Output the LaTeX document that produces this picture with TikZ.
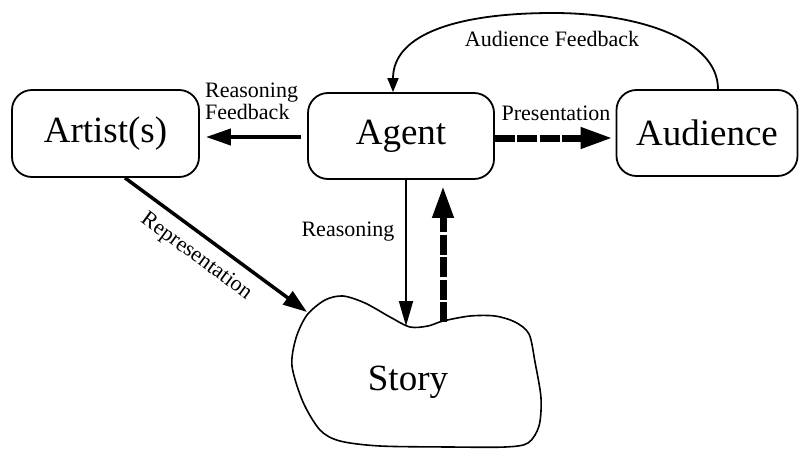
\documentclass[tikz,border=0pt]{standalone}
\usepackage{fontspec}
\setmainfont{Liberation Serif}
\usetikzlibrary{arrows.meta}

\begin{document}
\begin{tikzpicture}[x=1pt,y=-1pt,
  entity/.style={draw, line width=1.8pt, rounded corners=20pt, inner sep=0pt,
    font=\fontsize{37}{40}\selectfont},
  lbl/.style={font=\fontsize{22}{22}\selectfont, inner sep=0pt},
  solidlink/.style={line width=4pt, -{Triangle[length=25pt,width=16pt]}},
  thinlink/.style={line width=1.8pt, -{Triangle[length=25pt,width=14pt]}},
  dashlink/.style={line width=7pt, dash pattern=on 20pt off 2.5pt,
    -{Triangle[length=32pt,width=20pt]}},
]
\useasboundingbox (0,0) rectangle (800,450);

% the three actors
\node[entity, minimum width=187pt, minimum height=87pt] (artist) at (105.5,133.5) {Artist(s)};
\node[entity, minimum width=186pt, minimum height=86pt] (agent) at (401,136) {Agent};
\node[entity, minimum width=181pt, minimum height=86pt] (audience) at (707,133) {Audience};

% the story cloud
\draw[line width=1.6pt] plot[smooth cycle, tension=0.5] coordinates {
  (307,315) (325,300) (343,296) (365,303) (390,317) (410,327) (428,326)
  (443,321) (470,316) (495,316) (515,322) (529,334) (535,362) (541,398)
  (539,426) (528,443) (505,447) (450,447) (380,446) (340,441) (320,430)
  (303,402) (292,366) (296,338)};
\node[font=\fontsize{37}{40}\selectfont, inner sep=0pt] (story) at (408,382) {Story};
\coordinate (repin) at (307,312);
\coordinate (rsin) at (406,326);
\coordinate (upout) at (443,322);

% agent -> artist
\draw[solidlink, shorten <=6pt, shorten >=6pt] ([yshift=-1pt]agent.west) -- ([yshift=-1pt]agent.west -| artist.east);
\node[lbl, align=left, anchor=north west] (rfb) at (205,83) {Reasoning\\Feedback};

% agent -> audience
\draw[dashlink, shorten >=3pt] ([yshift=-2pt]agent.east) -- ([yshift=-2pt]agent.east -| audience.west);
\node[lbl, anchor=base] (pres) at (556,120) {Presentation};

% audience -> agent
\draw[line width=1.8pt, -{Triangle[length=14pt,width=11pt]}]
  (audience.north -| 718,0) .. controls (718,40) and (640,13) .. (553,13)
  .. controls (460,13) and (393,33) .. (agent.north -| 393,0);
\node[lbl, anchor=base] (afb) at (552,46) {Audience Feedback};

% artist -> story
\draw[line width=3.5pt, -{Triangle[length=24pt,width=16pt]}]
  (artist.south -| 125,0) -- (repin)
  node[lbl, pos=0.46, sloped, below=10pt] (repl) {Representation};

% agent <-> story
\draw[thinlink] (agent.south -| rsin) -- (rsin);
\node[lbl, anchor=base] (rsl) at (348,236) {Reasoning};
\draw[dashlink, shorten >=6pt] (upout) -- (agent.south -| upout);

\end{tikzpicture}
\end{document}
